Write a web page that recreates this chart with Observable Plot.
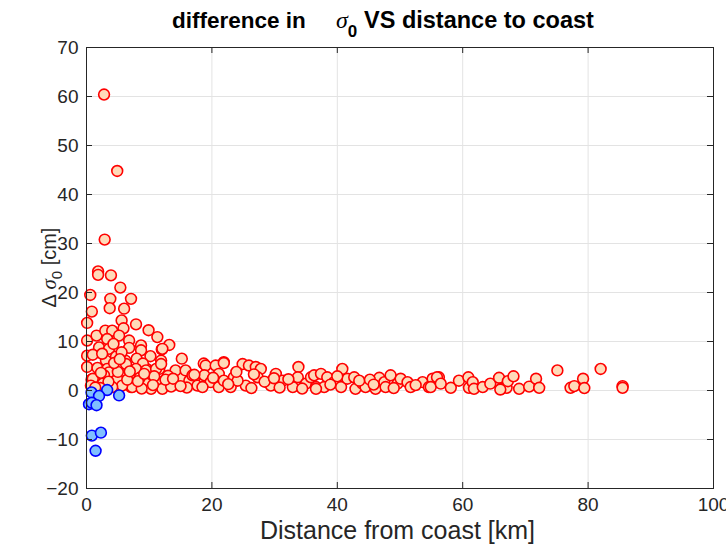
<!DOCTYPE html>
<html>
<head>
<meta charset="utf-8">
<script src="https://cdn.jsdelivr.net/npm/d3@7"></script>
<script src="https://cdn.jsdelivr.net/npm/@observablehq/plot@0.6"></script>
<style>
  html, body { margin: 0; padding: 0; background: #fff; overflow: hidden; }
  #chart { width: 726px; height: 544px; }
</style>
</head>
<body>
<div id="chart"></div>
<script>
// ---- data ----
const xTicks = [0, 20, 40, 60, 80, 100];
const yTicks = [-20, -10, 0, 10, 20, 30, 40, 50, 60, 70];

// positive differences (red)
const redX = [
  2.8, 4.9, 2.9, 1.85, 1.85, 3.9, 5.4, 0.6, 3.8, 7.1, 3.7, 6.0, 0.85, 0.1, 5.6, 5.9, 7.9, 9.9, 11.3, 13.2,
  12.0, 15.2, 0.1, 1.6, 3.0, 4.1, 5.2, 2.0, 3.3, 3.6, 6.8, 6.8, 8.7, 8.7, 0.1, 1.0, 3.1, 4.7, 6.2, 0.1,
  1.75, 3.3, 9.6, 7.6, 11.6, 11.9, 18.7, 0.8, 4.9, 7.1, 21.9, 24.9, 12.1, 2.5, 4.3, 5.6, 8.0, 10.2, 9.0,
  3.6, 6.3, 7.9, 9.5, 11.1, 11.9, 1.0, 2.8, 7.3, 9.5, 11.9, 10.3, 12.1, 14.2, 15.3, 16.4, 17.7, 18.8, 5.7,
  4.1, 0.7, 2.6, 14.2, 15.8, 3.5, 6.5, 8.5, 10.8, 13.0, 13.5, 16.0, 5.0, 2.2, 8.8,
  16.9, 19.0, 20.6, 21.9, 18.8, 19.8, 21.1, 21.1, 23.0, 23.5, 25.4, 25.9, 27.0, 27.8, 27.3, 29.4, 30.2,
  31.3, 32.9, 33.8, 33.7, 35.0, 35.8, 36.6, 24.1, 21.9, 18.5, 20.2, 22.6, 26.3, 28.4, 30.8, 32.2, 34.4,
  26.7, 23.9, 29.9,
  36.3, 37.4, 38.4, 37.9, 36.6, 39.5, 40.6, 41.6, 42.7, 42.9, 44.0, 44.5, 46.1, 46.7, 47.5, 48.5, 47.7,
  49.6, 50.1, 51.2, 51.7, 53.6, 54.6, 55.2, 56.2, 40.8, 38.9, 43.5, 45.2, 49.0, 52.5, 40.0, 45.8,
  54.9, 55.9, 56.5, 58.1, 59.4, 60.9, 61.0, 61.6, 61.8, 63.2, 64.4, 65.8, 66.1, 67.0, 67.2, 68.1, 69.0,
  70.6, 71.7, 72.2, 75.1, 77.2, 77.8, 79.2, 79.4, 82.0, 85.5, 85.5, 66.0,
  1.4, 2.3, 4.4, 5.3, 6.9, 8.2, 9.2, 10.6, 12.6, 13.8, 15.0, 17.2
];
const redY = [
  60.4, 44.8, 30.8, 24.3, 23.6, 23.5, 21.0, 19.5, 18.7, 18.7, 16.8, 16.7, 16.1, 13.8, 14.3, 12.7, 13.5, 12.3, 10.9, 9.3,
  8.4, 6.5, 10.2, 11.2, 12.2, 12.2, 11.2, 8.8, 10.5, 8.5, 10.2, 8.7, 9.2, 8.2, 7.1, 7.3, 6.1, 6.9, 6.1, 4.8,
  4.6, 4.4, 4.4, 3.1, 4.4, 6.1, 5.5, 2.2, 2.4, 0.7, 5.8, 5.4, 8.5, 7.5, 9.5, 7.8, 6.5, 7.0, 5.5,
  3.7, 5.4, 4.4, 4.1, 4.4, 5.4, 2.4, 3.1, 0.7, 1.4, 1.7, 0.35, 0.35, 1.4, 2.7, 2.0, 1.0, 2.4, 1.0,
  0.7, 1.0, 1.4, 4.1, 4.1, 1.8, 2.2, 2.6, 2.9, 3.0, 0.8, 0.6, 3.8, 0.5, 0.4,
  3.1, 5.1, 5.1, 5.6, 3.1, 1.7, 3.4, 0.7, 0.7, 2.7, 1.0, 5.1, 4.8, 4.4, 2.7, 1.0, 3.4,
  2.0, 0.7, 4.8, 2.7, 1.4, 2.7, 0.7, 2.0, 2.0, 0.7, 2.6, 1.3, 0.5, 1.8, 0.6, 2.3, 0.4,
  3.3, 3.8, 2.5,
  3.1, 3.4, 2.7, 0.7, 0.35, 1.7, 0.7, 2.4, 2.7, 0.35, 1.4, 0.7, 0.35, 2.6, 1.7, 3.1, 0.7,
  1.4, 2.4, 1.7, 0.7, 1.7, 0.7, 2.4, 2.7, 4.4, 1.2, 2.0, 2.2, 0.5, 1.1, 2.9, 1.2,
  0.7, 2.7, 1.4, 0.55, 2.0, 2.7, 0.55, 1.7, 0.35, 0.7, 1.4, 2.6, 0.35, 0.55, 1.9, 2.9, 0.35,
  0.8, 2.4, 0.55, 4.1, 0.55, 0.9, 2.4, 0.5, 4.4, 0.9, 0.55, 0.2,
  0.6, 3.6, 5.6, 6.4, 3.9, 1.9, 3.4, 1.1, 2.2, 2.4, 0.9, 3.2
];

// negative differences (blue)
const blueX = [0.8, 3.3, 5.2, 2.0, 0.4, 0.85, 1.6, 0.85, 2.3, 1.45];
const blueY = [-0.4, 0.1, -1.0, -1.1, -2.8, -2.5, -3.0, -9.2, -8.6, -12.3];

const red = redX.map((x, i) => ({x, y: redY[i]}));
const blue = blueX.map((x, i) => ({x, y: blueY[i]}));

// ---- layout ----
const W = 726, H = 544;
const mT = 47, mB = 56, mL = 86, mR = 13;
const innerW = W - mL - mR, innerH = H - mT - mB;
const tickLen = 6;
const ink = "#262626";

const chart = Plot.plot({
  width: W,
  height: H,
  marginTop: mT,
  marginBottom: mB,
  marginLeft: mL,
  marginRight: mR,
  style: {fontFamily: "'Liberation Sans', Arial, Helvetica, sans-serif", color: ink, background: "#fff", overflow: "visible"},
  x: {domain: [0, 100]},
  y: {domain: [-20, 70]},
  marks: [
    Plot.gridX(xTicks, {stroke: "#e3e3e3", strokeOpacity: 1}),
    Plot.gridY(yTicks, {stroke: "#e3e3e3", strokeOpacity: 1}),
    Plot.dot(red, {x: "x", y: "y", r: 5.4, fill: "#ffdab9", stroke: "#ff0000", strokeWidth: 1.6}),
    Plot.dot(blue, {x: "x", y: "y", r: 5.4, fill: "#80bfff", stroke: "#0000ff", strokeWidth: 1.6}),
    // inward ticks on all four sides (MATLAB box style)
    Plot.tickX(xTicks, {x: d => d, stroke: ink, insetTop: innerH - tickLen}),
    Plot.tickX(xTicks, {x: d => d, stroke: ink, insetBottom: innerH - tickLen}),
    Plot.tickY(yTicks, {y: d => d, stroke: ink, insetRight: innerW - tickLen}),
    Plot.tickY(yTicks, {y: d => d, stroke: ink, insetLeft: innerW - tickLen}),
    Plot.frame({stroke: ink, strokeWidth: 1}),
    Plot.axisX(xTicks, {tickSize: 0, tickPadding: 9, fontSize: 19, label: null, fill: ink}),
    Plot.axisY(yTicks, {tickSize: 0, tickPadding: 8, fontSize: 19, label: null, fill: ink})
  ]
});

document.getElementById("chart").appendChild(chart);

// ---- rich-text title and axis labels ----
const svg = d3.select(chart);
const sans = "'Liberation Sans', Arial, Helvetica, sans-serif";
const serif = "'Liberation Serif', 'Times New Roman', serif";

const title = svg.append("text")
  .attr("x", 172).attr("y", 28)
  .attr("text-anchor", "start")
  .attr("fill", "#000")
  .attr("font-family", sans)
  .attr("font-size", 22.5)
  .attr("font-weight", "bold");
title.append("tspan").text("difference in");
title.append("tspan").attr("x", 336).attr("font-family", serif).attr("font-style", "italic")
  .attr("font-weight", "normal").attr("font-size", 24).text("σ");
title.append("tspan").attr("dy", 9).attr("font-size", 17).text("0");
title.append("tspan").attr("dy", -9).attr("x", 364).attr("font-size", 23.5).text("VS distance to coast");

svg.append("text")
  .attr("x", mL + innerW / 2 - 2).attr("y", 539)
  .attr("text-anchor", "middle")
  .attr("fill", ink)
  .attr("font-family", sans)
  .attr("font-size", 25)
  .text("Distance from coast [km]");

const yl = svg.append("text")
  .attr("transform", `translate(56, ${mT + innerH / 2}) rotate(-90)`)
  .attr("text-anchor", "middle")
  .attr("fill", ink)
  .attr("font-family", sans)
  .attr("font-size", 20);
yl.append("tspan").text("Δ ");
yl.append("tspan").attr("font-family", serif).attr("font-style", "italic").attr("font-size", 21).text("σ");
yl.append("tspan").attr("dy", 6).attr("font-size", 15).text("0");
yl.append("tspan").attr("dy", -6).text(" [cm]");
</script>
</body>
</html>
